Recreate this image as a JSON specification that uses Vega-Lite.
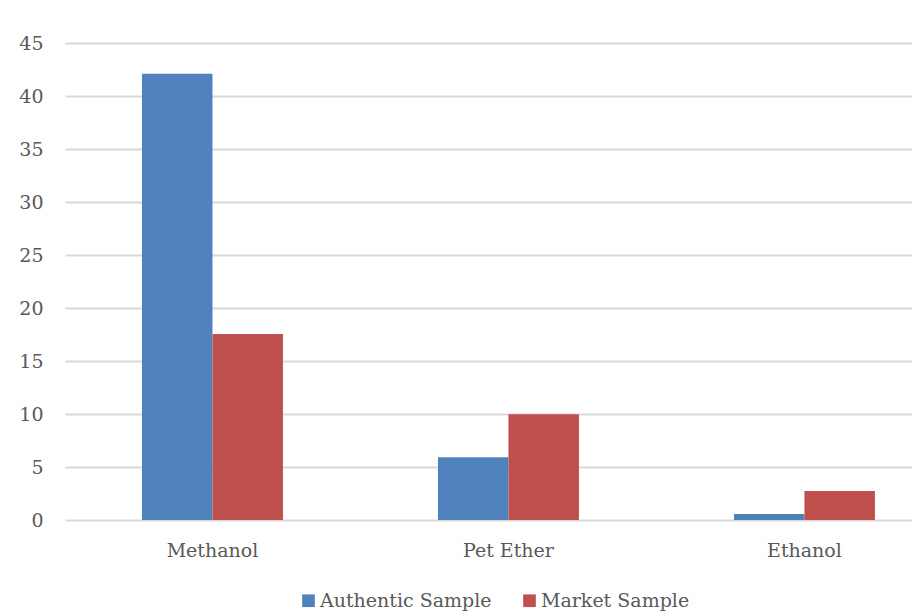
{
  "$schema": "https://vega.github.io/schema/vega-lite/v6.json",
  "autosize": {"type": "none"},
  "padding": {"left": 65, "top": 43, "right": 0, "bottom": 93},
  "width": 847,
  "height": 477,
  "background": "white",
  "data": {
    "values": [
      {"solvent": "Methanol", "sample": "Authentic Sample", "value": 42.11},
      {"solvent": "Methanol", "sample": "Market Sample", "value": 17.54},
      {"solvent": "Pet Ether", "sample": "Authentic Sample", "value": 5.91},
      {"solvent": "Pet Ether", "sample": "Market Sample", "value": 9.97},
      {"solvent": "Ethanol", "sample": "Authentic Sample", "value": 0.57},
      {"solvent": "Ethanol", "sample": "Market Sample", "value": 2.73}
    ]
  },
  "mark": {"type": "bar"},
  "encoding": {
    "x": {
      "field": "solvent",
      "type": "nominal",
      "sort": ["Methanol", "Pet Ether", "Ethanol"],
      "scale": {"paddingInner": 0.5236, "paddingOuter": 0.1926, "align": 0.675},
      "axis": {
        "title": null,
        "labelAngle": 0,
        "domain": false,
        "ticks": false,
        "labelPadding": 21,
        "labelFont": "DejaVu Serif",
        "labelFontSize": 19,
        "labelColor": "#595959"
      }
    },
    "xOffset": {
      "field": "sample",
      "type": "nominal",
      "sort": ["Authentic Sample", "Market Sample"],
      "scale": {"paddingInner": 0, "paddingOuter": 0}
    },
    "y": {
      "field": "value",
      "type": "quantitative",
      "scale": {"domain": [0, 45], "nice": false},
      "axis": {
        "title": null,
        "values": [0, 5, 10, 15, 20, 25, 30, 35, 40, 45],
        "domain": false,
        "ticks": false,
        "labelPadding": 22,
        "labelFont": "DejaVu Serif",
        "labelFontSize": 19,
        "labelColor": "#595959",
        "grid": true,
        "gridColor": "#d9d9d9",
        "gridWidth": 2
      }
    },
    "color": {
      "field": "sample",
      "type": "nominal",
      "sort": ["Authentic Sample", "Market Sample"],
      "scale": {"range": ["#4F81BD", "#C0504D"]},
      "legend": {
        "title": null,
        "orient": "none",
        "legendX": 234,
        "legendY": 548,
        "direction": "horizontal",
        "symbolType": "square",
        "symbolSize": 160,
        "symbolStrokeWidth": 0,
        "labelFont": "DejaVu Serif",
        "labelFontSize": 19,
        "labelColor": "#595959",
        "labelOffset": 2,
        "labelLimit": 400,
        "columnPadding": 28
      }
    }
  },
  "config": {
    "view": {"stroke": null}
  }
}
